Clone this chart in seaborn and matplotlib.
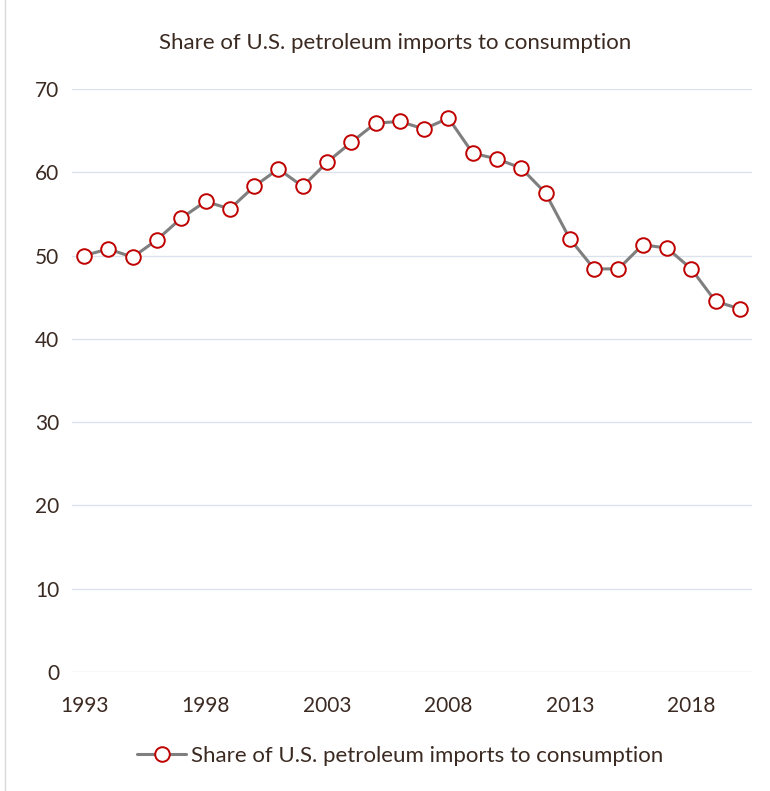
import matplotlib
matplotlib.use("Agg")
import matplotlib.pyplot as plt
import seaborn as sns
import pandas as pd
from matplotlib.lines import Line2D

years = list(range(1993, 2021))
share = [50.0, 50.8, 49.8, 51.9, 54.5, 56.5, 55.6, 58.3, 60.4, 58.3,
         61.2, 63.6, 65.9, 66.1, 65.2, 66.5, 62.3, 61.6, 60.5, 57.5,
         52.0, 48.4, 48.4, 51.3, 50.9, 48.4, 44.5, 43.6]
series_name = "Share of U.S. petroleum imports to consumption"
xticks = [1993, 1998, 2003, 2008, 2013, 2018]
yticks = [0, 10, 20, 30, 40, 50, 60, 70]

sns.set_theme(style="white")
plt.rcParams['font.family'] = ['Lato', 'DejaVu Sans']
text_color = "#3B2A22"

df = pd.DataFrame({"year": years, "share": share})

fig = plt.figure(figsize=(7.7, 7.91), dpi=100)
ax = fig.add_axes([72/770, 1-672/791, (752-72)/770, (672-89)/791])

for y in yticks:
    ax.axhline(y, color="#D9D9D9" if y == 0 else "#DCE3EE", lw=1.0, zorder=0)

sns.lineplot(data=df, x="year", y="share", ax=ax, color="#7F7F7F", lw=2.2,
             marker="o", markersize=10.5, markerfacecolor="white",
             markeredgecolor="#C00000", markeredgewidth=1.4, zorder=3)

ax.set_xlim(1992.5, 2020.5)
ax.set_ylim(0, 70)
ax.set_xticks(xticks)
ax.set_yticks(yticks)
ax.set_xticklabels([str(t) for t in xticks], fontsize=15, color=text_color)
ax.set_yticklabels([str(t) for t in yticks], fontsize=15, color=text_color)
ax.tick_params(axis='x', pad=17, length=0)
ax.tick_params(axis='y', pad=9, length=0)
ax.set_xlabel("")
ax.set_ylabel("")
for s in ax.spines.values():
    s.set_visible(False)

fig.text(395/770, 1 - 43/791, series_name, ha="center", va="center",
         fontsize=16, color=text_color)

handle = Line2D([], [], color="#7F7F7F", lw=2.2, marker="o", markersize=10.5,
                markerfacecolor="white", markeredgecolor="#C00000", markeredgewidth=1.4)
fig.legend([handle], [series_name], loc="center", bbox_to_anchor=(400/770, 1 - 756/791),
           frameon=False, fontsize=16, labelcolor=text_color, handlelength=2.2,
           handletextpad=0.2)

fig.add_artist(Line2D([5/770, 5/770], [0, 1], color="#D9D9D9", lw=1.0,
                      transform=fig.transFigure))

fig.savefig("out.png", dpi=100)
